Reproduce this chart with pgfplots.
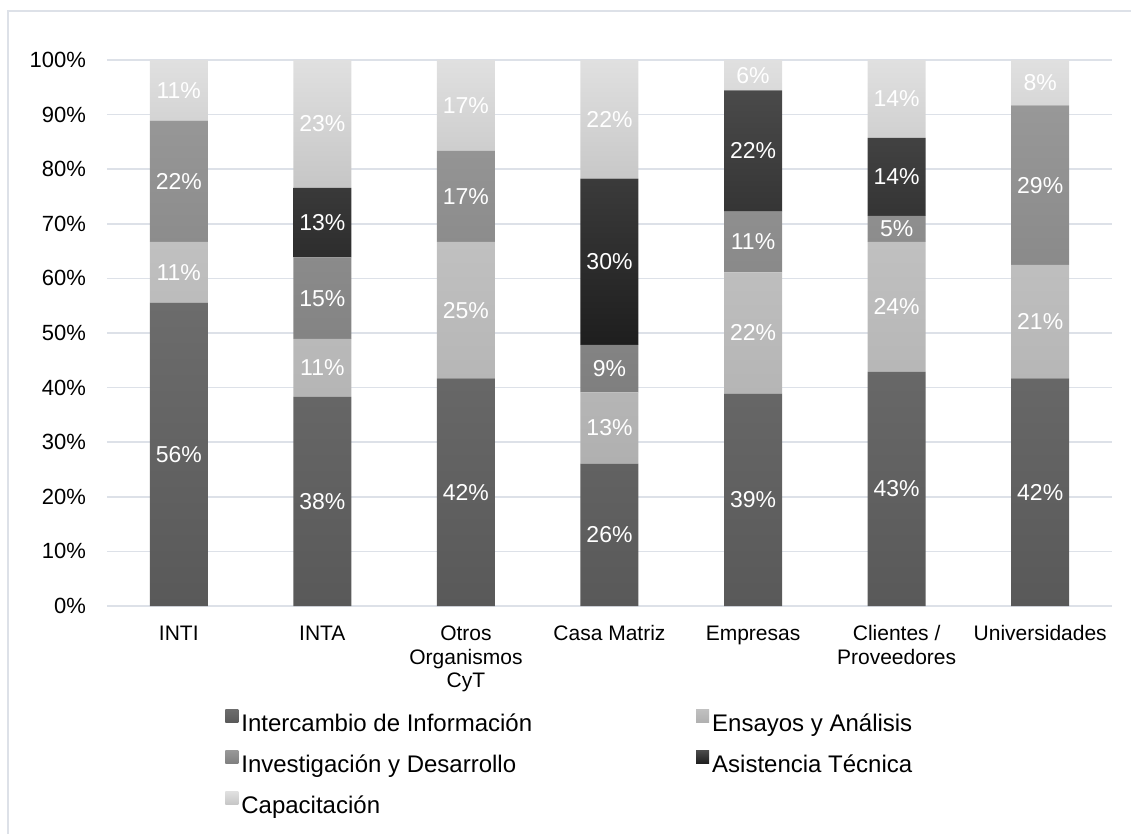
\documentclass[border=0pt]{standalone}
\usepackage{fontspec}
\setmainfont{Liberation Sans}
\usepackage{pgfplots}
\usepackage{pgfplotstable}
\pgfplotsset{compat=1.18}

\definecolor{gridc}{HTML}{DDE1E8}
\definecolor{framec}{HTML}{DDE1E8}
\definecolor{intT}{HTML}{6C6C6C}
\definecolor{intB}{HTML}{595959}
\definecolor{ensT}{HTML}{C0C0C0}
\definecolor{ensB}{HTML}{B0B0B0}
\definecolor{idT}{HTML}{989898}
\definecolor{idB}{HTML}{7F7F7F}
\definecolor{asiT}{HTML}{4A4A4A}
\definecolor{asiB}{HTML}{1E1E1E}
\definecolor{capT}{HTML}{E0E0E0}
\definecolor{capB}{HTML}{C6C6C6}

% shares per category (percent), label as printed on the bar
% (each column of the five tables sums to 100 exactly, or the top label is dropped)
\pgfplotstableread{
x y lab
0 55.56 56\%
1 38.30 38\%
2 41.67 42\%
3 26.09 26\%
4 38.89 39\%
5 42.86 43\%
6 41.67 42\%
}\intercambio
\pgfplotstableread{
x y lab
0 11.11 11\%
1 10.64 11\%
2 25.00 25\%
3 13.04 13\%
4 22.22 22\%
5 23.81 24\%
6 20.83 21\%
}\ensayos
\pgfplotstableread{
x y lab
0 22.22 22\%
1 14.89 15\%
2 16.67 17\%
3 8.70 9\%
4 11.11 11\%
5 4.76 5\%
6 29.17 29\%
}\investigacion
\pgfplotstableread{
x y lab
0 0 {}
1 12.77 13\%
2 0 {}
3 30.43 30\%
4 22.22 22\%
5 14.29 14\%
6 0 {}
}\asistencia
\pgfplotstableread{
x y lab
0 11.11 11\%
1 23.40 23\%
2 16.66 17\%
3 21.74 22\%
4 5.56 6\%
5 14.28 14\%
6 8.33 8\%
}\capacitacion

\begin{document}
\begin{tikzpicture}
\useasboundingbox (0pt,0pt) rectangle (565.5pt,-417pt);
\draw[framec, line width=1pt] (4pt,-450pt) -- (4pt,-5.5pt) -- (600pt,-5.5pt);
\begin{axis}[
  at={(53.5pt,-303pt)}, anchor=south west,
  width=502.5pt, height=273pt, scale only axis,
  ybar stacked, bar width=29pt,
  xmin=-0.5, xmax=6.5, ymin=0, ymax=100,
  xtick={0,...,6},
  xticklabels={INTI, INTA, {Otros\\Organismos\\CyT}, Casa Matriz, Empresas, {Clientes /\\Proveedores}, Universidades},
  typeset ticklabels with strut,
  ytick={0,10,...,100},
  yticklabel={\pgfmathprintnumber{\tick}\%},
  /pgf/number format/assume math mode=true,
  ymajorgrids, grid style={gridc, line width=0.75pt},
  axis line style={draw=none},
  major tick length=0pt, tick style={draw=none},
  yticklabel style={font=\fontsize{11}{13}\selectfont, xshift=-7pt},
  xticklabel style={font=\fontsize{10.5}{11.8}\selectfont, align=center, yshift=-5.5pt},
  point meta=explicit symbolic,
  nodes near coords={\pgfplotspointmeta},
  every node near coord/.append style={font=\fontsize{11.5}{13}\selectfont, white, anchor=center},
  legend columns=2,
  legend cell align=left,
  legend style={at={(0.1174,-0.189)}, anchor=north west, draw=none, fill=none, inner sep=0pt,
    font=\fontsize{12}{14}\selectfont,
    nodes={inner xsep=0pt, inner ysep=0pt, text height=9pt, text depth=2.5pt},
    /tikz/every odd column/.append style={column sep=1.5pt},
    /tikz/every even column/.append style={column sep=82pt},
    row sep=7pt},
  legend image code/.code={\path[#1] (0pt,1.25pt) rectangle (6.5pt,7.75pt);},
]
\addplot[draw=none, top color=intT, bottom color=intB]
  table[x=x, y=y, meta=lab] {\intercambio};
\addlegendentry{Intercambio de Información}
\addplot[draw=none, top color=ensT, bottom color=ensB]
  table[x=x, y=y, meta=lab] {\ensayos};
\addlegendentry{Ensayos y Análisis}
\addplot[draw=none, top color=idT, bottom color=idB]
  table[x=x, y=y, meta=lab] {\investigacion};
\addlegendentry{Investigación y Desarrollo}
\addplot[draw=none, top color=asiT, bottom color=asiB]
  table[x=x, y=y, meta=lab] {\asistencia};
\addlegendentry{Asistencia Técnica}
\addplot[draw=none, top color=capT, bottom color=capB]
  table[x=x, y=y, meta=lab] {\capacitacion};
\addlegendentry{Capacitación}
\end{axis}
\end{tikzpicture}
\end{document}
